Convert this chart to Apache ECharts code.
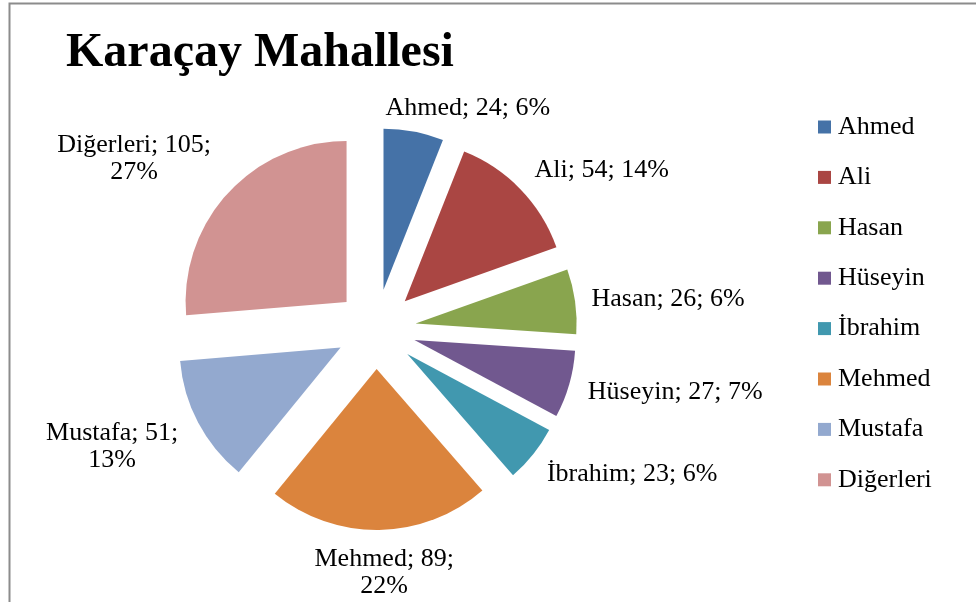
<!DOCTYPE html>
<html>
<head>
<meta charset="utf-8">
<title>Karaçay Mahallesi</title>
<script src="https://cdn.jsdelivr.net/npm/echarts@6/dist/echarts.min.js"></script>
<style>
  html, body { margin: 0; padding: 0; background: #fff; }
  #chart { width: 976px; height: 602px; }
</style>
</head>
<body>
<div id="chart"></div>
<script>
const names = ['Ahmed', 'Ali', 'Hasan', 'Hüseyin', 'İbrahim', 'Mehmed', 'Mustafa', 'Diğerleri']
const values = [24, 54, 26, 27, 23, 89, 51, 105]
// percentages as printed on the original chart
const percents = ['6%', '14%', '6%', '7%', '6%', '22%', '13%', '27%']
const colors = ['#4572A7', '#AA4643', '#89A54E', '#71588F', '#4198AF', '#DB843D', '#93A9CF', '#D19392']

// labels that wrap onto a second line
const wrapped = [5, 6, 7]
// nudges so the labels sit where Excel put them
const labelShift = [
  [49, -23], [76, -19], [88, -2], [101, 8],
  [94, 20], [0, 43], [-81, 24], [-89, -34]
]

const font = 'Liberation Serif, Times New Roman, serif'
const chart = echarts.init(document.getElementById('chart'))

chart.setOption({
  animation: false,
  title: {
    text: 'Karaçay Mahallesi',
    left: 66,
    top: 30,
    padding: 0,
    textStyle: { fontFamily: font, fontSize: 48, fontWeight: 'bold', color: '#000', lineHeight: 48 }
  },
  legend: {
    orient: 'vertical',
    left: 818,
    top: 114,
    padding: 0,
    itemWidth: 13,
    itemHeight: 13,
    itemGap: 24.4,
    icon: 'rect',
    selectedMode: false,
    data: names,
    textStyle: { fontFamily: font, fontSize: 26, color: '#000', lineHeight: 26, padding: [0, 0, 0, 2] }
  },
  graphic: [{
    type: 'rect',
    shape: { x: 9.5, y: 3.5, width: 1000, height: 700 },
    style: { fill: 'none', stroke: '#8c8c8c', lineWidth: 2 },
    silent: true
  }],
  series: [{
    type: 'pie',
    center: [376, 329],
    radius: 161,
    startAngle: 90,
    clockwise: true,
    selectedMode: 'multiple',
    selectedOffset: 40,
    avoidLabelOverlap: false,
    emphasis: { scale: false },
    label: {
      show: true,
      position: 'outside',
      fontFamily: font,
      fontSize: 26,
      lineHeight: 27,
      color: '#000',
      align: 'center',
      formatter: p => p.name + '; ' + p.value + ';' + (wrapped.includes(p.dataIndex) ? '\n' : ' ') + percents[p.dataIndex]
    },
    labelLine: { show: false, length: 0, length2: 0 },
    labelLayout: p => ({
      align: 'center',
      dx: labelShift[p.dataIndex][0],
      dy: labelShift[p.dataIndex][1]
    }),
    data: names.map((n, i) => ({
      name: n,
      value: values[i],
      selected: true,
      itemStyle: { color: colors[i] }
    }))
  }]
})
</script>
</body>
</html>
